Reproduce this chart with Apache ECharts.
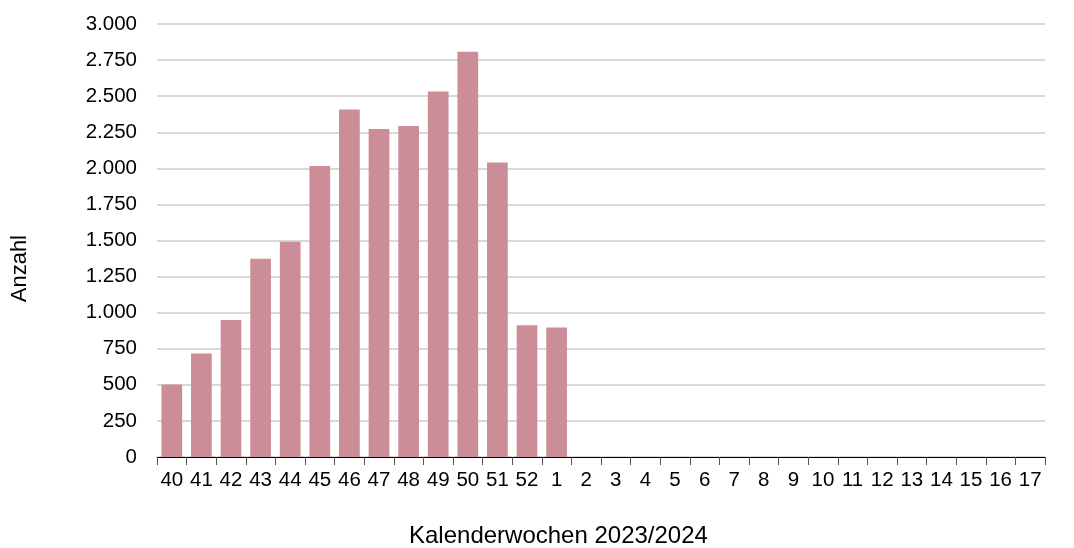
<!DOCTYPE html>
<html>
<head>
<meta charset="utf-8">
<script src="https://cdn.jsdelivr.net/npm/echarts@6/dist/echarts.min.js"></script>
<style>html,body{margin:0;padding:0;background:#fff;}#c{width:1074px;height:548px;}</style>
</head>
<body>
<div id="c"></div>
<script>
const categories = ['40','41','42','43','44','45','46','47','48','49','50','51','52','1','2','3','4','5','6','7','8','9','10','11','12','13','14','15','16','17'];
const values = [503,717,950,1373,1492,2017,2407,2272,2294,2532,2808,2040,912,898,null,null,null,null,null,null,null,null,null,null,null,null,null,null,null,null];
const yTicks = {min:0, max:3000, interval:250};
const yName = 'Anzahl';
const xName = 'Kalenderwochen 2023/2024';

const chart = echarts.init(document.getElementById('c'));
const font = 'Liberation Sans, Arial, sans-serif';
chart.setOption({
  animation:false,
  grid:{left:157, right:29, top:24, bottom:91},
  graphic:[{
    type:'text', left:9, top:235, rotation:Math.PI/2,
    style:{text:yName, font:'22px ' + font, fill:'#000'}
  },{
    type:'text', left:409, top:524,
    style:{text:xName, font:'24px ' + font, fill:'#000'}
  }],
  xAxis:{
    type:'category', data:categories,
    axisLine:{lineStyle:{color:'#000', width:1}},
    axisTick:{show:true, length:8, lineStyle:{color:'#555'}},
    axisLabel:{fontFamily:font, fontSize:20.5, color:'#000', margin:13, interval:0}
  },
  yAxis:{
    type:'value', min:yTicks.min, max:yTicks.max, interval:yTicks.interval,
    axisLine:{show:false},
    axisTick:{show:false},
    axisLabel:{fontFamily:font, fontSize:20.5, color:'#000', margin:20,
      formatter:v => v.toLocaleString('de-DE')},
    splitLine:{lineStyle:{color:'#d9d9d9', width:2}}
  },
  series:[{
    type:'bar', data:values, barWidth:'70%',
    itemStyle:{color:'#CB8E99'}
  }]
});
</script>
</body>
</html>
